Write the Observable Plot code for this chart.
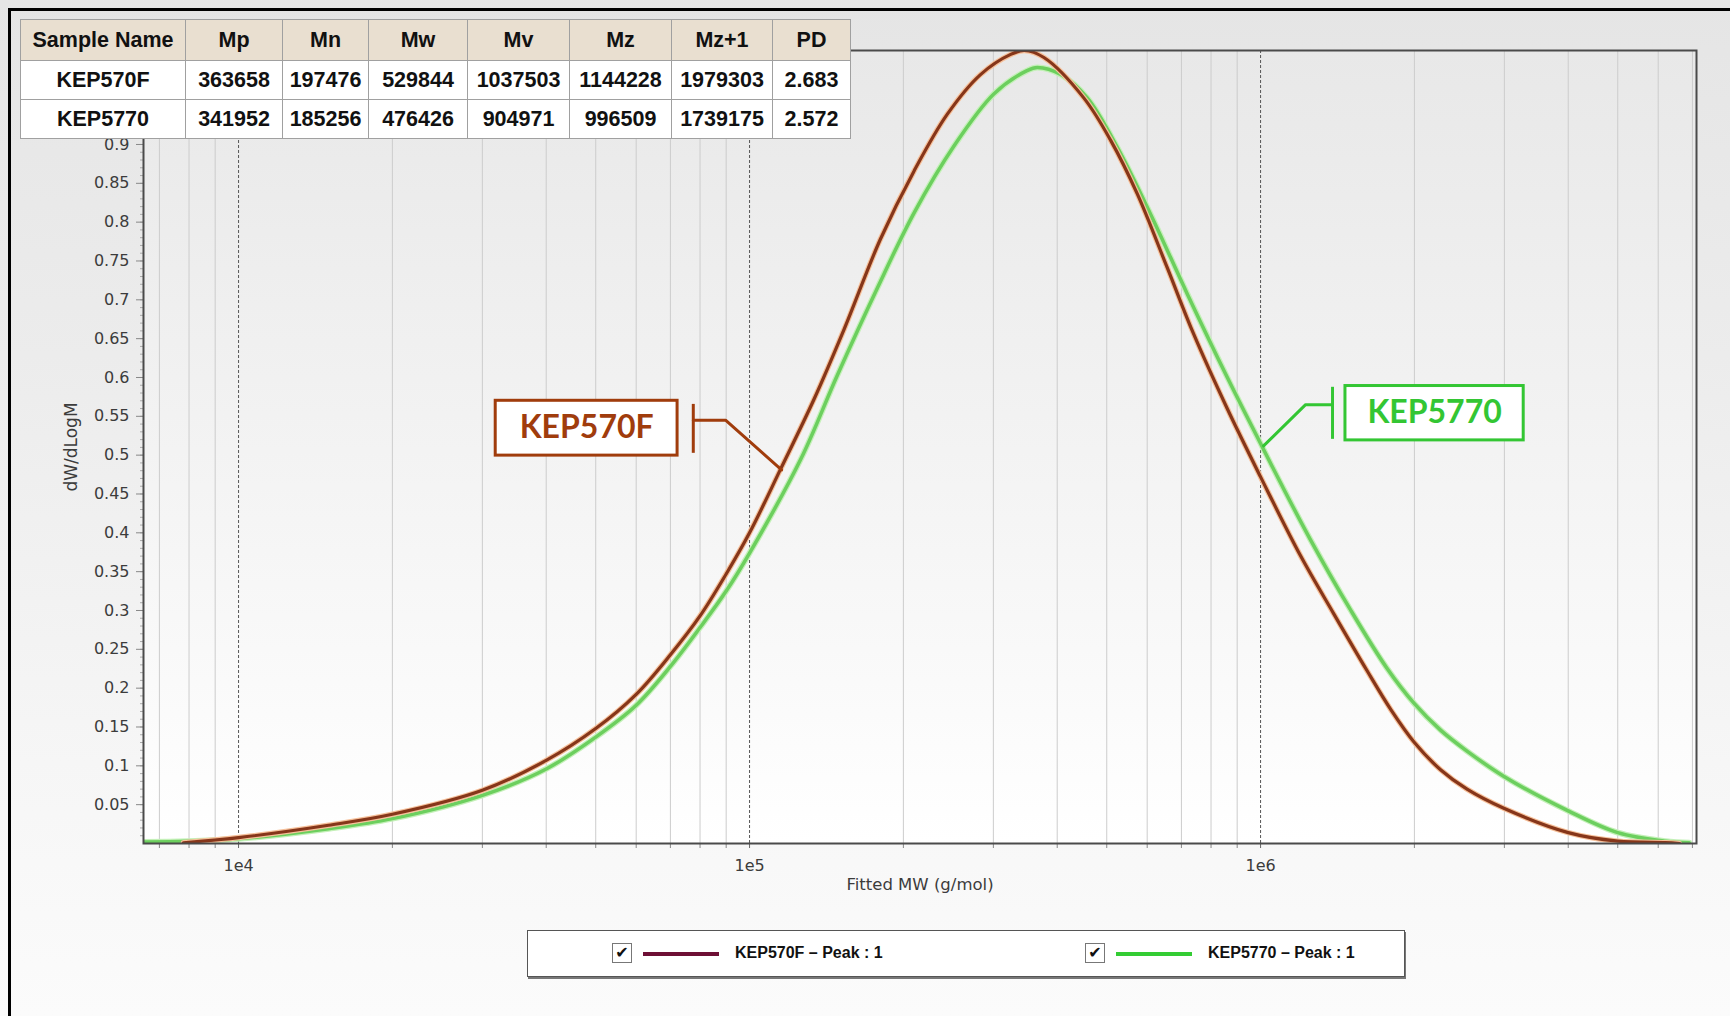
<!DOCTYPE html>
<html>
<head>
<meta charset="utf-8">
<script src="https://cdn.jsdelivr.net/npm/d3@7"></script>
<script src="https://cdn.jsdelivr.net/npm/@observablehq/plot@0.6"></script>
<style>
html,body{margin:0;padding:0;}
body{width:1730px;height:1016px;position:relative;overflow:hidden;
  background:linear-gradient(#e5e5e5 0%, #ececec 35%, #f6f6f6 75%, #fbfbfb 100%);
  font-family:"Liberation Sans",Arial,sans-serif;}
#outer{position:absolute;left:8px;top:8px;right:-10px;bottom:-10px;border-left:3px solid #000;border-top:3px solid #000;pointer-events:none;}
#chart{position:absolute;left:0;top:0;}
#tbl{position:absolute;left:20px;top:19px;border-collapse:collapse;table-layout:fixed;
  font-family:"Liberation Sans",Arial,sans-serif;font-weight:bold;font-size:21.5px;color:#111;background:#fff;}
#tbl td,#tbl th{border:1.5px solid #a0a0a0;text-align:center;padding:0;}
#tbl th{background:#e9dfd0;height:40px;}
#tbl td{height:38px;}
#legend{position:absolute;left:527px;top:930px;width:876px;height:45px;background:#fff;border:1px solid #555;box-shadow:1px 2px 0 #777;
  font-family:"Liberation Sans",Arial,sans-serif;font-weight:bold;font-size:16px;color:#111;}
.cb{position:absolute;top:12px;width:18px;height:18px;border:1px solid #777;background:#fff;font-family:"DejaVu Sans";font-size:16px;font-weight:bold;line-height:18px;text-align:center;color:#111;}
.sw{position:absolute;top:21px;height:4px;}
.lt{position:absolute;top:13px;line-height:18px;}
</style>
</head>
<body>
<div id="chart"></div>
<table id="tbl"></table>
<div id="legend"></div>
<div id="outer"></div>
<script>
// ---------------- data ----------------
const seriesNames = ["KEP570F", "KEP5770"];

// KEP570F (brown) : molecular weight and dW/dLogM
const kep570fMW  = [7800, 10000, 15000, 20000, 30000, 40000, 50000, 60000, 70000, 80000, 90000, 100000, 115000, 133700, 153100, 180300, 209900, 243800, 283100, 324300, 345000, 376700, 450800, 509300, 574100, 656100, 739600, 859000, 1000000, 1196000, 1390000, 1614000, 1800000, 2000000, 2250000, 2535000, 3000000, 4000000, 5000000, 6200000, 6600000];
const kep570fVal = [0.001, 0.0076, 0.0235, 0.0376, 0.0685, 0.107, 0.148, 0.192, 0.243, 0.293, 0.347, 0.400, 0.482, 0.572, 0.662, 0.778, 0.866, 0.939, 0.990, 1.016, 1.021, 1.012, 0.960, 0.905, 0.836, 0.742, 0.656, 0.561, 0.472, 0.371, 0.296, 0.223, 0.172, 0.130, 0.095, 0.070, 0.045, 0.014, 0.003, 0.001, 0.0];

// KEP5770 (green)
const kep5770MW  = [6500, 8000, 10000, 15000, 20000, 30000, 40000, 50000, 60000, 70000, 80000, 90000, 100000, 126000, 148300, 177800, 209900, 251200, 300600, 349100, 365600, 406400, 458100, 524800, 609500, 719500, 861000, 1000000, 1091000, 1250000, 1496000, 1766000, 2000000, 2250000, 2535000, 3000000, 4000000, 5000000, 6200000, 6900000];
const kep5770Val = [0.002, 0.003, 0.006, 0.019, 0.032, 0.062, 0.096, 0.137, 0.178, 0.228, 0.278, 0.325, 0.374, 0.495, 0.602, 0.715, 0.812, 0.898, 0.965, 0.995, 0.999, 0.990, 0.960, 0.896, 0.810, 0.707, 0.600, 0.515, 0.466, 0.392, 0.302, 0.226, 0.180, 0.146, 0.119, 0.086, 0.042, 0.014, 0.003, 0.001];

// table
const tableHeaders = ["Sample Name", "Mp", "Mn", "Mw", "Mv", "Mz", "Mz+1", "PD"];
const tableRow570F = ["KEP570F", "363658", "197476", "529844", "1037503", "1144228", "1979303", "2.683"];
const tableRow5770 = ["KEP5770", "341952", "185256", "476426", "904971", "996509", "1739175", "2.572"];

// axes
const xMajorTicks = [1e4, 1e5, 1e6];
const xTickLabels = ["1e4", "1e5", "1e6"];
const xMinorTicks = [7000, 8000, 9000, 20000, 30000, 40000, 50000, 60000, 70000, 80000, 90000,
  200000, 300000, 400000, 500000, 600000, 700000, 800000, 900000, 2000000, 3000000, 4000000, 5000000, 6000000, 7000000];
const yTicks = [0.05, 0.1, 0.15, 0.2, 0.25, 0.3, 0.35, 0.4, 0.45, 0.5, 0.55, 0.6, 0.65, 0.7, 0.75, 0.8, 0.85, 0.9];
const xLabel = "Fitted MW (g/mol)";
const yLabel = "dW/dLogM";

// annotation labels (data coordinates)
const annoColors = ["#a03c0c", "#33c633"];
const annoBoxX1 = [31860, 1466000];
const annoBoxX2 = [72300, 3273000];
const annoBoxY1 = [0.4994, 0.519];
const annoBoxY2 = [0.570, 0.589];
const annoBracketX = [77600, 1383000];
const annoBracketY1 = [0.503, 0.521];
const annoBracketY2 = [0.566, 0.588];
const leader570F = [[77600, 0.545], [89740, 0.545], [115500, 0.481]];
const leader5770 = [[1383000, 0.565], [1225000, 0.565], [1013700, 0.512]];

// legend
const legendLabels = ["KEP570F – Peak : 1", "KEP5770 – Peak : 1"];
const legendColors = ["#6e0f35", "#33cc33"];

// ---------------- build ----------------
const brown = kep570fMW.map((m, i) => ({mw: m, v: kep570fVal[i]}));
const green = kep5770MW.map((m, i) => ({mw: m, v: kep5770Val[i]}));
const boxes = seriesNames.map((n, i) => ({name: n, color: annoColors[i], x1: annoBoxX1[i], x2: annoBoxX2[i], y1: annoBoxY1[i], y2: annoBoxY2[i],
  cx: Math.sqrt(annoBoxX1[i] * annoBoxX2[i]), cy: (annoBoxY1[i] + annoBoxY2[i]) / 2,
  bx: annoBracketX[i], by1: annoBracketY1[i], by2: annoBracketY2[i]}));
const yMinor = d3.range(1, 91).map(i => i / 100);

const chart = Plot.plot({
  width: 1730, height: 900,
  marginLeft: 143, marginRight: 34, marginTop: 50, marginBottom: 57,
  x: {type: "log", domain: [6516, 7130000]},
  y: {domain: [0, 1.021]},
  style: {background: "transparent", fontFamily: "DejaVu Sans, Verdana, sans-serif", fontSize: "16px", color: "#3c3c3c", overflow: "visible"},
  marks: [
    Plot.frame({fill: "url(#plotbg)", stroke: "none"}),
    Plot.gridX(xMinorTicks, {stroke: "#cccccc", strokeOpacity: 1, strokeWidth: 1}),
    Plot.gridX(xMajorTicks, {stroke: "#555", strokeOpacity: 1, strokeDasharray: "3,2", strokeWidth: 1}),
    Plot.axisX(xMinorTicks, {tickSize: 5, tickFormat: () => "", label: null, stroke: "#888"}),
    Plot.axisX(xMajorTicks, {tickSize: 5, tickPadding: 11, tickFormat: d => xTickLabels[xMajorTicks.indexOf(d)], label: null, stroke: "#666", fill: "#3c3c3c", fontSize: 16}),
    Plot.axisY(yMinor, {tickSize: 3, tickFormat: () => "", label: null, stroke: "#aaa"}),
    Plot.axisY(yTicks, {tickSize: 7, tickPadding: 7, tickFormat: d => String(+d.toFixed(2)), label: null, stroke: "#888", fill: "#3c3c3c", fontSize: 16}),
    Plot.text([xLabel], {frameAnchor: "bottom", dy: 46, fill: "#3c3c3c", fontSize: 16.5}),
    Plot.text([yLabel], {frameAnchor: "left", dx: -72, rotate: -90, textAnchor: "middle", fill: "#3c3c3c", fontSize: 17}),
    // curves
    Plot.line(green, {x: "mw", y: "v", stroke: "#c4f0b8", strokeWidth: 6, curve: "catmull-rom", clip: true}),
    Plot.line(green, {x: "mw", y: "v", stroke: "#6ccf5e", strokeWidth: 3.5, curve: "catmull-rom", clip: true}),
    Plot.line(brown, {x: "mw", y: "v", stroke: "#f6c09a", strokeWidth: 5.5, curve: "catmull-rom", clip: true}),
    Plot.line(brown, {x: "mw", y: "v", stroke: "#86361a", strokeWidth: 3.2, curve: "catmull-rom", clip: true}),
    Plot.frame({stroke: "#4a4a4a", strokeWidth: 2}),
    // annotations
    Plot.line(leader570F, {x: d => d[0], y: d => d[1], stroke: annoColors[0], strokeWidth: 3}),
    Plot.line(leader5770, {x: d => d[0], y: d => d[1], stroke: annoColors[1], strokeWidth: 3}),
    Plot.link(boxes, {x1: "bx", x2: "bx", y1: "by1", y2: "by2", stroke: "color", strokeWidth: 3}),
    Plot.rect(boxes, {x1: "x1", x2: "x2", y1: "y1", y2: "y2", fill: "white", stroke: "color", strokeWidth: 3}),
    Plot.text(boxes, {x: "cx", y: "cy", text: "name", fill: "color", fontFamily: "Lato, 'Open Sans', sans-serif", fontWeight: "bold", fontSize: 32})
  ]
});

// gradient for plot interior
const defs = d3.select(chart).insert("defs", ":first-child");
const lg = defs.append("linearGradient").attr("id", "plotbg").attr("x1", 0).attr("x2", 0).attr("y1", 0).attr("y2", 1);
lg.append("stop").attr("offset", "0%").attr("stop-color", "#e8e8e8");
lg.append("stop").attr("offset", "55%").attr("stop-color", "#f4f4f4");
lg.append("stop").attr("offset", "100%").attr("stop-color", "#ffffff");
document.getElementById("chart").appendChild(chart);

// table
const colWidths = [165, 97, 86, 99, 102, 102, 101, 78];
const tbl = d3.select("#tbl");
const cg = tbl.append("colgroup");
colWidths.forEach(w => cg.append("col").style("width", w + "px"));
tbl.append("tr").selectAll("th").data(tableHeaders).join("th").text(d => d);
[tableRow570F, tableRow5770].forEach(r => tbl.append("tr").selectAll("td").data(r).join("td").text(d => d));

// legend
const lgEl = d3.select("#legend");
const legendX = [84, 557];
legendLabels.forEach((lab, i) => {
  lgEl.append("div").attr("class", "cb").style("left", legendX[i] + "px").text("✔");
  lgEl.append("div").attr("class", "sw").style("left", (legendX[i] + 31) + "px").style("width", "76px").style("background", legendColors[i]);
  lgEl.append("div").attr("class", "lt").style("left", (legendX[i] + 123) + "px").text(lab);
});
</script>
</body>
</html>
